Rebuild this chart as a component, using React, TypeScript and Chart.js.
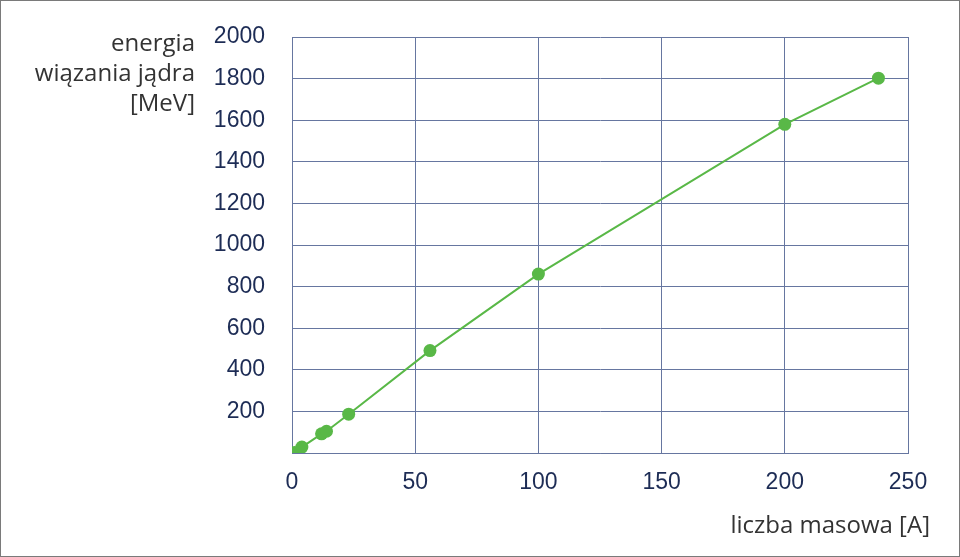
import React, { useEffect, useRef } from "react";
import { Chart, registerables } from "chart.js";

Chart.register(...registerables);

const massNumbers = [1, 4, 12, 14, 23, 56, 100, 200, 238];
const bindingEnergy = [2.2, 28.3, 92.2, 104.7, 186.6, 492.3, 860, 1580, 1802];
const xTicks = [0, 50, 100, 150, 200, 250];
const yTicks = [0, 200, 400, 600, 800, 1000, 1200, 1400, 1600, 1800, 2000];
const yTitleLines = ["energia", "wiązania jądra", "[MeV]"];
const xTitle = "liczba masowa [A]";

const GREEN = "#59b847";
const GRID = "#6676a0";
const TICK = "#1d2c55";
const TITLE = "#333333";

const titlesPlugin = {
  id: "titles",
  afterDraw(chart: any) {
    const ctx = chart.ctx;
    ctx.save();
    ctx.fillStyle = TITLE;
    ctx.font = '24px "Open Sans"';
    ctx.textAlign = "right";
    ctx.textBaseline = "middle";
    yTitleLines.forEach((t, i) => ctx.fillText(t, 195, 44 + i * 30));
    ctx.fillText(xTitle, 930, 526);
    ctx.restore();
  },
};

export default function App() {
  const ref = useRef<HTMLCanvasElement>(null);
  useEffect(() => {
    document.body.style.margin = "0";
    const chart = new Chart(ref.current!, {
      type: "scatter",
      data: {
        datasets: [
          {
            data: massNumbers.map((x, i) => ({ x, y: bindingEnergy[i] })),
            showLine: true,
            borderColor: GREEN,
            backgroundColor: GREEN,
            borderWidth: 2,
            pointRadius: 6.5,
            pointHoverRadius: 6.5,
            pointBorderWidth: 0,
            tension: 0,
          },
        ],
      },
      options: {
        animation: false,
        responsive: false,
        layout: { padding: { left: 0, right: 52, top: 37, bottom: 0 } },
        plugins: { legend: { display: false }, tooltip: { enabled: false } },
        scales: {
          x: {
            type: "linear",
            min: 0,
            max: 250,
            afterBuildTicks: (s: any) => {
              s.ticks = xTicks.map((v) => ({ value: v }));
            },
            afterFit: (s: any) => {
              s.height = 104;
            },
            grid: { color: GRID, lineWidth: 1, drawTicks: false },
            border: { color: GRID, width: 1 },
            ticks: {
              color: TICK,
              font: { family: '"Liberation Sans", Arial', size: 23 },
              padding: 16,
              maxRotation: 0,
            },
          },
          y: {
            type: "linear",
            min: 0,
            max: 2000,
            afterBuildTicks: (s: any) => {
              s.ticks = yTicks.map((v) => ({ value: v }));
            },
            afterFit: (s: any) => {
              s.width = 292;
            },
            grid: {
              color: GRID,
              lineWidth: 1,
              drawTicks: true,
              tickLength: 17,
              tickColor: "rgba(0,0,0,0)",
            },
            border: { color: GRID, width: 1 },
            ticks: {
              color: TICK,
              font: { family: '"Liberation Sans", Arial', size: 23 },
              padding: 10,
              callback: (v: any) => (v === 0 ? "" : String(v)),
            },
          },
        },
      },
      plugins: [titlesPlugin],
    });
    return () => chart.destroy();
  }, []);
  return (
    <div style={{ width: 960, height: 557, boxSizing: "border-box", position: "relative" }}>
      <canvas ref={ref} width={960} height={557} style={{ display: "block" }} />
      <div
        style={{
          position: "absolute",
          inset: 0,
          border: "1px solid #7a7a7a",
          pointerEvents: "none",
        }}
      />
    </div>
  );
}
